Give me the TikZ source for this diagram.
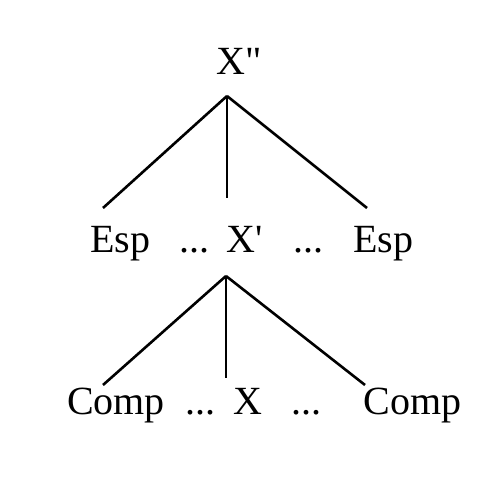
\documentclass[tikz,border=0pt]{standalone}
\usepackage{fontspec}
\setmainfont{Liberation Serif}[Ligatures=TeXOff]
\begin{document}
\begin{tikzpicture}[
  x=1pt,y=1pt,
  font=\fontsize{40}{48}\selectfont,
  lbl/.style={inner sep=0pt,anchor=base},
  br/.style={line width=2.6pt}
]
\useasboundingbox (0,0) rectangle (496,480);
% top
\node[lbl] (xbar2) at (239,405) {X"};
% middle row
\node[lbl] (espL) at (120,227) {Esp};
\node[lbl] (dotsA) at (194.5,227) {...};
\node[lbl] (xbar1) at (245,227) {X'};
\node[lbl] (dotsB) at (308.5,227) {...};
\node[lbl] (espR) at (383,227) {Esp};
% bottom row
\node[lbl] (compL) at (116,65) {Comp};
\node[lbl] (dotsC) at (200.5,65) {...};
\node[lbl] (xhead) at (248,65) {X};
\node[lbl] (dotsD) at (306.5,65) {...};
\node[lbl] (compR) at (412.5,65) {Comp};
% branch points
\coordinate (top1) at (227,384);
\coordinate (e1) at (103,272);
\coordinate (m1) at (227,282);
\coordinate (r1) at (367,272);
\coordinate (top2) at (226,204);
\coordinate (e2) at (103,95);
\coordinate (m2) at (226,102);
\coordinate (r2) at (365,95);
\draw[br] (top1)--(e1); \draw[br] (top1)--(m1); \draw[br] (top1)--(r1);
\draw[br] (top2)--(e2); \draw[br] (top2)--(m2); \draw[br] (top2)--(r2);
\end{tikzpicture}
\end{document}
